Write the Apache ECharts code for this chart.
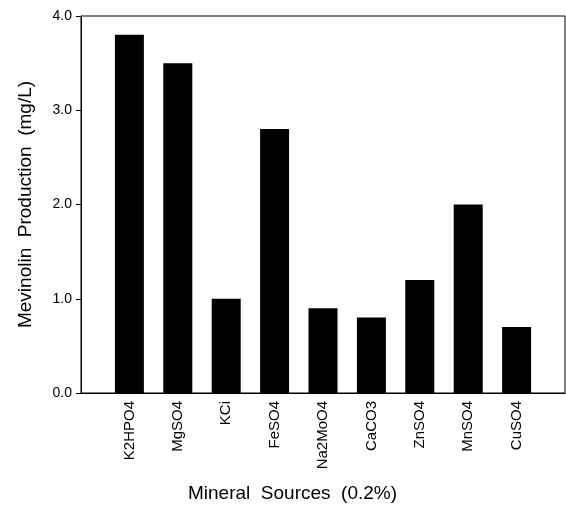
<!DOCTYPE html>
<html>
<head>
<meta charset="utf-8">
<script src="https://cdn.jsdelivr.net/npm/echarts@6/dist/echarts.min.js"></script>
<style>
  html, body { margin: 0; padding: 0; background: #fff; }
  #chart { width: 566px; height: 506px; }
</style>
</head>
<body>
<div id="chart"></div>
<script>
// Mineral sources tested and mevinolin yield for each (mg/L)
const minerals = ['K2HPO4', 'MgSO4', 'KCi', 'FeSO4', 'Na2MoO4', 'CaCO3', 'ZnSO4', 'MnSO4', 'CuSO4'];
const production = [3.8, 3.5, 1.0, 2.8, 0.9, 0.8, 1.2, 2.0, 0.7];
const yTicks = ['0.0', '1.0', '2.0', '3.0', '4.0'];

// One empty slot on each side so the bars sit inside the frame
const cats = [''].concat(minerals, ['']);
const vals = [null].concat(production, [null]);

const FONT = 'Liberation Sans, Arial, sans-serif';
const chart = echarts.init(document.getElementById('chart'), null, { renderer: 'canvas' });

chart.setOption({
  animation: false,
  backgroundColor: '#fff',
  grid: {
    left: 81, right: 1, top: 16, bottom: 113,
    show: true, borderColor: '#000', borderWidth: 1, backgroundColor: 'transparent'
  },
  xAxis: {
    type: 'category',
    data: cats,
    boundaryGap: false,
    axisLine: { lineStyle: { color: '#000', width: 1 } },
    axisTick: { show: false },
    axisLabel: {
      rotate: 90, margin: 8, interval: 0,
      fontFamily: FONT, fontSize: 15, color: '#000'
    },
    splitLine: { show: false }
  },
  yAxis: {
    type: 'value',
    min: 0, max: 4, interval: 1,
    name: 'Mevinolin  Production  (mg/L)',
    nameLocation: 'middle',
    nameGap: 46,
    nameTextStyle: { fontFamily: FONT, fontSize: 19, color: '#000' },
    axisLine: { show: true, lineStyle: { color: '#000', width: 1 } },
    axisTick: { show: true, length: 5, lineStyle: { color: '#000' } },
    axisLabel: {
      margin: 9, fontFamily: FONT, fontSize: 14, color: '#000',
      formatter: v => yTicks[Math.round(v)]
    },
    splitLine: { show: false }
  },
  graphic: [{
    type: 'text',
    left: 188, top: 484,
    style: {
      text: 'Mineral  Sources  (0.2%)',
      font: '19px ' + FONT,
      fill: '#000'
    }
  }],
  series: [{
    type: 'bar',
    data: vals,
    barWidth: 29,
    itemStyle: { color: '#000' }
  }]
});
</script>
</body>
</html>
